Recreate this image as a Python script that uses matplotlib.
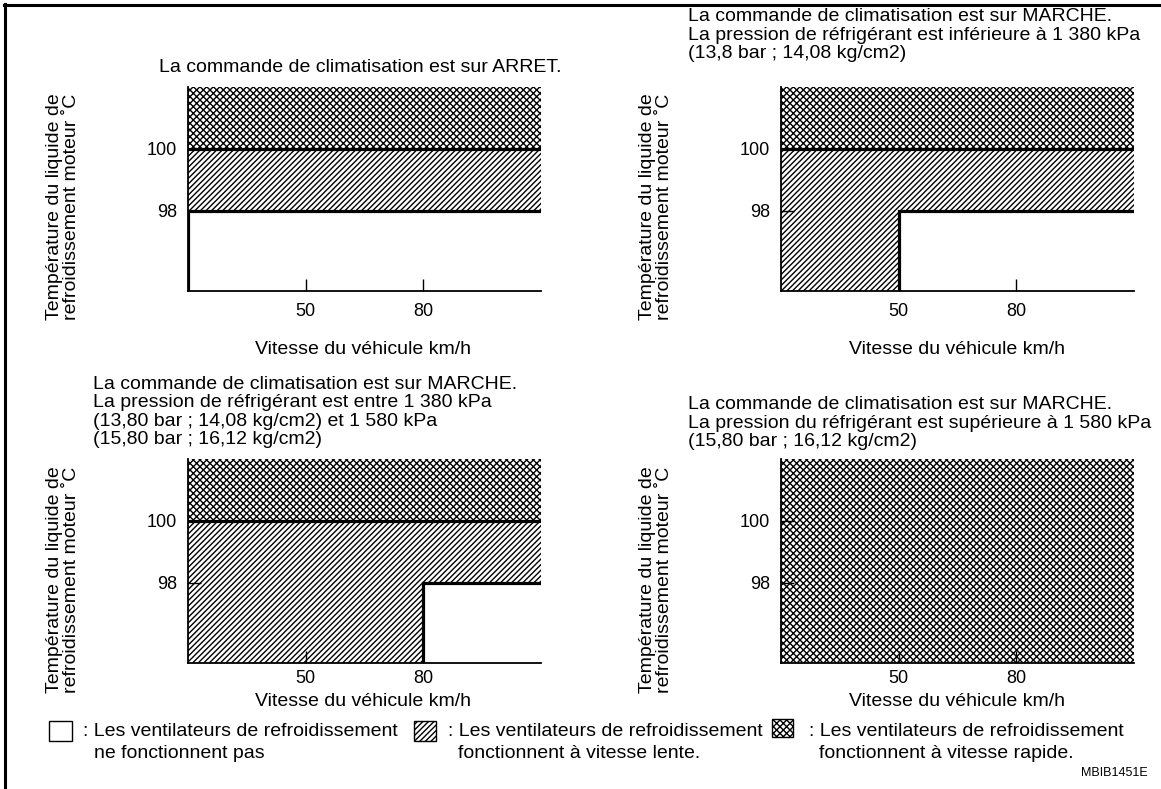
import matplotlib.pyplot as plt
from matplotlib.lines import Line2D
from matplotlib.patches import Rectangle

plt.rcParams['font.family'] = ['Liberation Sans', 'DejaVu Sans']
plt.rcParams['hatch.linewidth'] = 1.0

# données
vitesse_ticks = [50, 80]
temp_ticks = [98, 100]
x_min, x_max = 20, 110
y_min, y_max = 95.4, 102

titres = [
    "La commande de climatisation est sur ARRET.",
    "La commande de climatisation est sur MARCHE.\n"
    "La pression de réfrigérant est inférieure à 1 380 kPa\n"
    "(13,8 bar ; 14,08 kg/cm2)",
    "La commande de climatisation est sur MARCHE.\n"
    "La pression de réfrigérant est entre 1 380 kPa\n"
    "(13,80 bar ; 14,08 kg/cm2) et 1 580 kPa\n"
    "(15,80 bar ; 16,12 kg/cm2)",
    "La commande de climatisation est sur MARCHE.\n"
    "La pression du réfrigérant est supérieure à 1 580 kPa\n"
    "(15,80 bar ; 16,12 kg/cm2)",
]
# vitesse en dessous de laquelle la vitesse lente tourne quelle que soit la température
vitesse_coupure = [20, 50, 80, None]
temp_lente = [98, 98, 98, None]
temp_rapide = [100, 100, 100, None]   # None : vitesse rapide partout

ylabel = "Température du liquide de\nrefroidissement moteur ˚C"
xlabel = "Vitesse du véhicule km/h"

HACH_LENT = '//////'
HACH_RAPIDE = 'xxxxx'
FS = 14

W, H = 1161, 789
fig = plt.figure(figsize=(W / 100, H / 100), dpi=100)

# position des axes en pixels (gauche, haut)
pos = [(188, 87), (781, 87), (188, 459), (781, 459)]
aw, ah = 353, 204

def fx(px):
    return px / W

def fy(py):
    return 1 - py / H

for i in range(4):
    l, t = pos[i]
    ax = fig.add_axes([fx(l), fy(t + ah), aw / W, ah / H])
    ax.set_xlim(x_min, x_max)
    ax.set_ylim(y_min, y_max)

    if temp_rapide[i] is None:
        ax.fill_between([x_min, x_max], y_min, y_max, facecolor='white',
                        edgecolor='black', hatch=HACH_RAPIDE, linewidth=0)
    else:
        c = vitesse_coupure[i]
        xs = [x_min, c, c, x_max]
        bas = [y_min, y_min, temp_lente[i], temp_lente[i]]
        ax.fill_between(xs, bas, temp_rapide[i], facecolor='white',
                        edgecolor='black', hatch=HACH_LENT, linewidth=0)
        ax.fill_between([x_min, x_max], temp_rapide[i], y_max, facecolor='white',
                        edgecolor='black', hatch=HACH_RAPIDE, linewidth=0)
        ax.plot([x_min, x_max], [temp_rapide[i]] * 2, color='black', lw=2.3,
                solid_capstyle='butt', zorder=3)
        ax.plot([c, c, x_max], [y_min, temp_lente[i], temp_lente[i]],
                color='black', lw=2.3, solid_capstyle='butt',
                solid_joinstyle='miter', zorder=3)

    ax.set_xticks(vitesse_ticks)
    ax.set_yticks(temp_ticks)
    ax.set_xticklabels([str(v) for v in vitesse_ticks])
    ax.set_yticklabels([str(v) for v in temp_ticks])
    ax.tick_params(direction='in', length=9, width=1.0, labelsize=13,
                   color='black', pad=8)
    ax.tick_params(axis='x', length=9, pad=8.5 if i < 2 else 5)
    for s in ['top', 'right']:
        ax.spines[s].set_visible(False)
    for s in ['left', 'bottom']:
        ax.spines[s].set_linewidth(1.3)

# titres
fig.text(fx(360), fy(67), titres[0], ha='center', va='center', fontsize=FS)
fig.text(fx(688), fy(35), titres[1], ha='left', va='center', fontsize=FS,
         linespacing=1.1)
fig.text(fx(93), fy(412), titres[2], ha='left', va='center', fontsize=FS,
         linespacing=1.1)
fig.text(fx(688), fy(423), titres[3], ha='left', va='center', fontsize=FS,
         linespacing=1.1)

# étiquettes d'axes
for (x, y) in [(63, 207), (656, 207), (63, 580), (656, 580)]:
    fig.text(fx(x), fy(y), ylabel, rotation=90, ha='center', va='center',
             multialignment='center', fontsize=FS, linespacing=1.0)
for (x, y) in [(363, 350), (957, 350), (363, 702), (957, 702)]:
    fig.text(fx(x), fy(y), xlabel, ha='center', va='center', fontsize=FS)

# légende
legende = [
    (49, 721, 23, 20, None, 83, 94,
     "ne fonctionnent pas"),
    (414, 721, 22, 20, HACH_LENT, 448, 458,
     "fonctionnent à vitesse lente."),
    (772, 719, 21, 18, HACH_RAPIDE, 809, 819,
     "fonctionnent à vitesse rapide."),
]
for (bx, by, bw, bh, hatch, tx, tx2, ligne2) in legende:
    fig.add_artist(Rectangle((fx(bx), fy(by + bh)), bw / W, bh / H,
                             transform=fig.transFigure, facecolor='white',
                             edgecolor='black', lw=1.0, hatch=hatch))
    fig.text(fx(tx), fy(731), ": Les ventilateurs de refroidissement",
             ha='left', va='center', fontsize=FS)
    fig.text(fx(tx2), fy(753), ligne2, ha='left', va='center', fontsize=FS)

fig.text(fx(1148), fy(773), "MBIB1451E", ha='right', va='center', fontsize=9)

# cadre
fig.add_artist(Line2D([fx(5), fx(5)], [0, fy(4)], transform=fig.transFigure,
                      color='black', lw=2.2))
fig.add_artist(Line2D([fx(4), 1], [fy(5), fy(5)], transform=fig.transFigure,
                      color='black', lw=2.2))

fig.savefig('out.png', dpi=100, facecolor='white')
